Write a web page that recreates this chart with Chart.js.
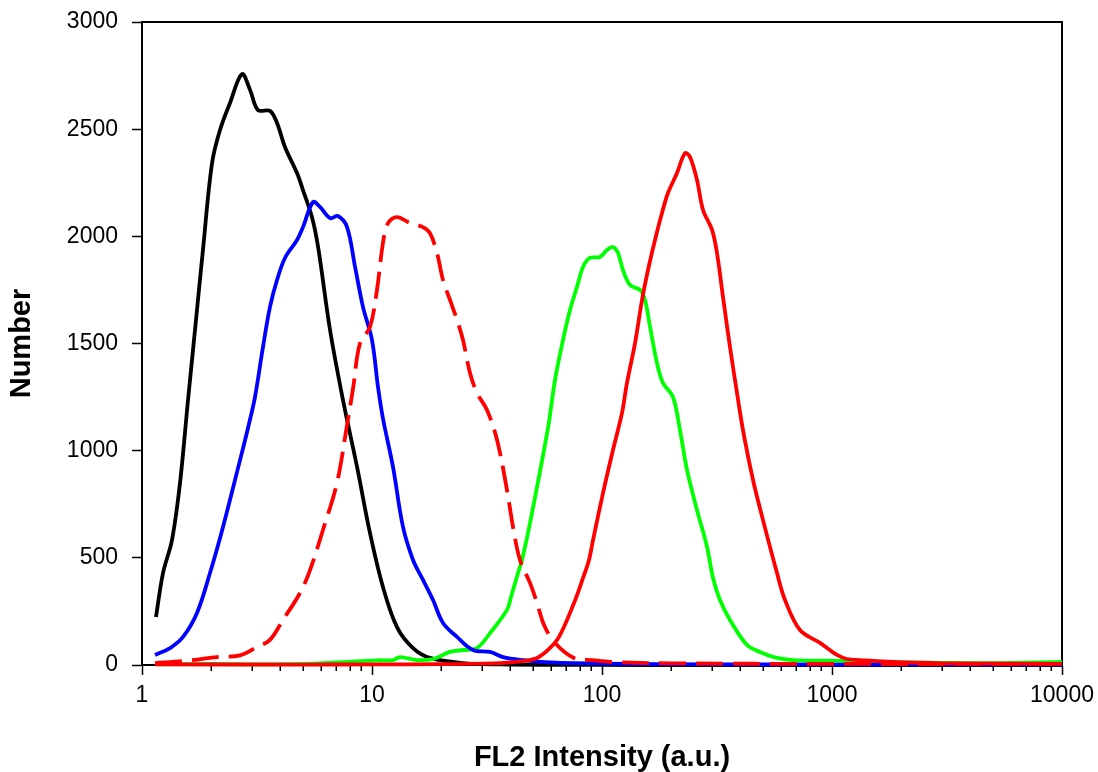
<!DOCTYPE html>
<html><head><meta charset="utf-8">
<script src="https://cdn.jsdelivr.net/npm/chart.js@4/dist/chart.umd.min.js"></script>
<style>html,body{margin:0;padding:0;background:#fff}#wrap{width:1098px;height:772px}</style>
</head><body><div id="wrap"><canvas id="c" width="1098" height="772"></canvas></div>
<script>
const xTickLabels = [1, 10, 100, 1000, 10000];
const xMinorSteps = [2, 3, 4, 5, 6, 7, 8, 9];
const yTickStep = 500;

const blackX = [1.15,1.234,1.35,1.463,1.585,1.70,1.842,2.015,2.183,2.413,2.72,2.95,3.194,3.60,3.864,4.184,4.72,5.01,5.48,5.83,6.57,7.48,8.61,9.80,11.16,12.84,15.08,17.87,24.87,36,60,150,1000,10000];
const blackY = [224,429,583,849,1236,1563,1940,2340,2496,2622,2757,2683,2589,2585,2529,2417,2295,2216,2090,1950,1563,1236,924,616,364,177,79,33,9,3,1,0,0,0];

const blueX = [1.139,1.324,1.508,1.734,1.975,2.25,2.668,2.89,3.099,3.358,3.60,3.864,4.184,4.72,5.01,5.54,5.94,6.57,7.11,7.79,8.44,9.14,10,10.62,11.16,12.34,13.64,15.08,16.66,18.42,20.36,23.43,27.49,32.6,37.13,45.36,60,100,300,1000,10000];
const blueY = [47,79,131,243,429,644,956,1106,1250,1484,1670,1796,1899,1983,2043,2160,2137,2085,2095,2043,1857,1670,1516,1297,1150,924,644,490,397,303,196,131,70,61,37,23,12,6,3,2,2];

const redDashX = [1.139,1.508,2.119,2.668,3.162,3.60,4.10,4.864,5.377,6.12,7.04,7.79,8.27,8.87,9.80,10.51,11.16,11.74,12.84,14.63,16.66,17.87,19.17,20.36,21.83,23.43,24.87,26.68,28.61,31.62,34.97,38.64,41.03,44.0,48.64,52.19,55.96,62.48,75.56,90.5,109.4,200,1000,10000];
const redDashY = [9,18,37,45,84,117,210,336,443,630,849,1120,1290,1502,1577,1750,1969,2062,2090,2062,2043,2015,1922,1796,1703,1610,1516,1362,1269,1190,1050,816,644,490,383,289,187,103,33,23,14,8,5,5];

const greenX = [1.15,2,3,5,7,8.87,10.5,12.34,13.23,15.70,18.42,21.83,24.87,28.61,32.6,38.64,40.21,43.13,44.9,48.64,58.25,62.48,67.68,72.6,77.86,82.7,88.65,98.0,105.1,111.6,117.4,123.4,132.4,146.3,153.8,161.8,173.4,184.1,203.6,218.3,234.2,258.8,286.2,303.9,325.8,360.1,427,486.4,576.7,676.7,1116,2000,5012,10000];
const greenY = [3,5,3,5,12,18,22,23,37,23,28,61,70,79,149,257,317,429,490,662,1106,1330,1516,1656,1764,1857,1899,1904,1936,1950,1922,1843,1773,1750,1703,1577,1409,1316,1250,1096,910,723,551,406,303,210,93,61,33,23,19,12,9,14];

const redX = [1.139,5,10,20,36,45,52.19,58.25,65.03,75.56,82.7,87.8,91.4,101,111.6,122.2,128.4,139.2,149.3,158.5,170,182.3,193.6,211.9,229.6,241.3,258.8,274.9,300.9,316.2,335.8,360.1,386.4,410.2,453.6,501.2,576.7,624.9,725.9,887,1051,1162,1323,1842,3000,10000];
const redY = [3,2,3,4,9,18,33,70,131,289,406,490,583,802,1003,1176,1316,1502,1703,1843,1983,2109,2202,2295,2388,2370,2263,2123,2030,1922,1717,1484,1269,1096,863,676,429,303,163,103,47,28,23,14,8,5];

function pts(xs, ys) { return xs.map((x, i) => ({x: x, y: ys[i]})); }
function isMajor(v) { return xTickLabels.some(t => Math.abs(t - v) < 1e-6 * t); }

const allXTicks = [];
xTickLabels.forEach((d, i) => {
  allXTicks.push(d);
  if (i < xTickLabels.length - 1) xMinorSteps.forEach(m => allXTicks.push(d * m));
});

const FONT = "'Liberation Sans', Arial, sans-serif";

function ds(label, xs, ys, color, order, dash) {
  return {
    label: label, data: pts(xs, ys), borderColor: color, backgroundColor: color,
    borderWidth: 3.8, pointRadius: 0, fill: false, tension: 0.35,
    borderDash: dash || [], order: order, clip: 5, borderCapStyle: 'butt', borderJoinStyle: 'round'
  };
}

const frame = {
  id: 'frame',
  beforeDatasetsDraw(chart) {
    const a = chart.chartArea, c = chart.ctx;
    c.save();
    c.strokeStyle = '#000'; c.lineWidth = 2;
    c.beginPath();
    c.moveTo(a.left, a.top); c.lineTo(a.right, a.top); c.lineTo(a.right, a.bottom);
    c.stroke();
    const xs = chart.scales.x;
    c.lineWidth = 1.5;
    allXTicks.forEach(v => {
      if (isMajor(v)) return;
      const px = Math.round(xs.getPixelForValue(v)) + 0.25;
      c.beginPath(); c.moveTo(px, a.bottom); c.lineTo(px, a.bottom + 6); c.stroke();
    });
    c.restore();
  }
};

new Chart(document.getElementById('c'), {
  type: 'line',
  data: { datasets: [
    ds('Red', redX, redY, '#ff0000', 0),
    ds('Red dashed', redDashX, redDashY, '#ff0000', 1, [27, 10]),
    ds('Blue', blueX, blueY, '#0000ff', 2),
    ds('Green', greenX, greenY, '#00ff00', 3),
    ds('Black', blackX, blackY, '#000000', 4)
  ]},
  options: {
    responsive: false, animation: false, devicePixelRatio: 1,
    layout: { padding: { top: 22, right: 36, left: 0, bottom: 0 } },
    plugins: { legend: { display: false }, tooltip: { enabled: false } },
    scales: {
      x: {
        type: 'logarithmic', min: 1, max: 10000, position: 'bottom',
        afterBuildTicks: s => { s.ticks = allXTicks.map(v => ({ value: v, major: isMajor(v) })); },
        afterFit: s => { s.height = 107; s.paddingLeft = 0; s.paddingRight = 0; },
        border: { display: true, color: '#000', width: 2 },
        grid: { display: true, drawOnChartArea: false, drawTicks: true, tickLength: 10, tickWidth: 1.5,
                tickColor: ctx => (ctx.tick && isMajor(ctx.tick.value)) ? '#000' : 'rgba(0,0,0,0)' },
        ticks: { autoSkip: false, maxRotation: 0, minRotation: 0, padding: 7, color: '#000',
                 font: { family: FONT, size: 23 },
                 callback: v => isMajor(v) ? String(Math.round(v)) : '' },
        title: { display: true, text: 'FL2 Intensity (a.u.)', color: '#000',
                 font: { family: FONT, size: 29, weight: 'bold', lineHeight: 1 }, padding: { top: 0, bottom: 0 } }
      },
      y: {
        type: 'linear', min: 0, max: 3000, position: 'left',
        afterFit: s => { s.width = 142; s.paddingTop = 0; s.paddingBottom = 0; },
        border: { display: true, color: '#000', width: 2 },
        grid: { display: true, drawOnChartArea: false, drawTicks: true, tickLength: 10, tickWidth: 1.5, tickColor: '#000' },
        ticks: { stepSize: yTickStep, padding: 14, color: '#000', font: { family: FONT, size: 23 },
                 callback: v => String(v) },
        title: { display: true, text: 'Number', color: '#000',
                 font: { family: FONT, size: 29, weight: 'bold', lineHeight: 1 }, padding: { top: 7, bottom: 0 } }
      }
    }
  },
  plugins: [frame]
});
</script></body></html>
